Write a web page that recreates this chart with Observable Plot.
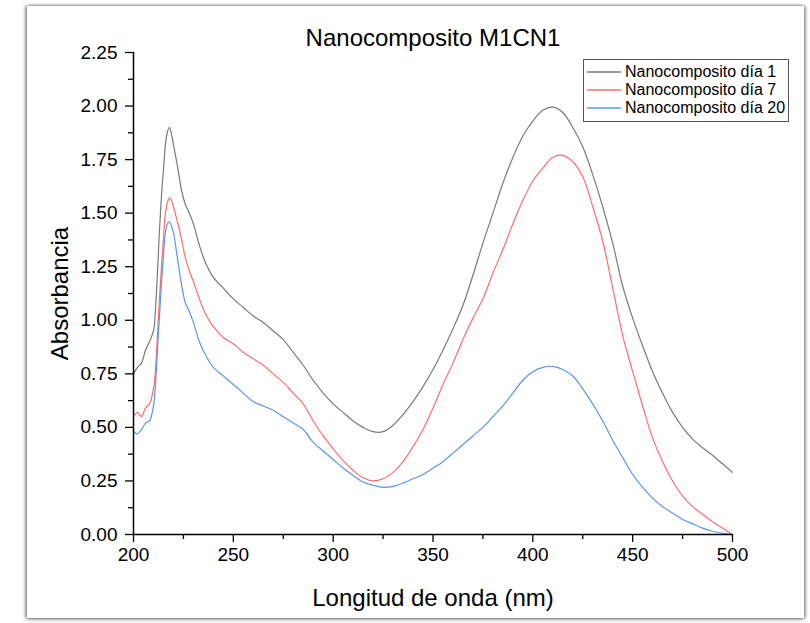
<!DOCTYPE html>
<html>
<head>
<meta charset="utf-8">
<script src="https://cdn.jsdelivr.net/npm/d3@7"></script>
<script src="https://cdn.jsdelivr.net/npm/@observablehq/plot@0.6"></script>
<style>
  html, body { margin: 0; padding: 0; background: #fff; }
  body { width: 810px; height: 623px; position: relative; overflow: hidden; font-family: "Liberation Sans", Arial, sans-serif; }
  #card { position: absolute; left: 27px; top: 6px; width: 777px; height: 612px; background: #fff;
          box-shadow: -2px 0 3px rgba(0,0,0,0.35), 0 -1px 3px rgba(0,0,0,0.2), 2px 0 3px rgba(0,0,0,0.3), 0 2px 3px rgba(0,0,0,0.25); }
  #chart { position: absolute; left: 0; top: 0; }
  #legend { position: absolute; left: 583px; top: 59px; width: 206px; height: 63px; border: 1px solid #555; background: #fff;
            font-size: 16px; line-height: 18px; padding-top: 3px; box-sizing: border-box; }
  .row { display: flex; align-items: center; height: 18px; white-space: nowrap; }
  .row svg { margin-left: 3px; margin-right: 4px; }
</style>
</head>
<body>
<div id="card"></div>
<div id="chart"></div>
<div id="legend"></div>
<script>
const wavelength = [200,202,204,206,208,210,211,212,213,214,215,216,217,218,219,220,222,224,226,228,230,233,236,240,245,250,255,260,265,270,275,280,285,290,295,300,305,310,315,320,325,330,335,340,345,350,355,360,365,370,375,380,385,390,395,400,405,410,415,420,425,430,435,440,445,450,455,460,465,470,475,480,485,490,495,500];
const day1 = [0.75,0.78,0.80,0.86,0.90,0.95,1.05,1.22,1.42,1.58,1.70,1.82,1.88,1.90,1.87,1.82,1.72,1.61,1.54,1.50,1.45,1.35,1.27,1.20,1.15,1.10,1.06,1.02,0.99,0.95,0.91,0.85,0.79,0.72,0.66,0.61,0.57,0.53,0.50,0.48,0.48,0.51,0.56,0.62,0.69,0.77,0.86,0.96,1.07,1.21,1.36,1.50,1.64,1.76,1.86,1.93,1.98,1.995,1.97,1.90,1.81,1.68,1.53,1.36,1.16,1.01,0.88,0.76,0.66,0.57,0.50,0.445,0.405,0.37,0.33,0.29];
const day7 = [0.55,0.57,0.55,0.59,0.61,0.68,0.77,0.93,1.10,1.25,1.38,1.50,1.55,1.57,1.56,1.53,1.46,1.38,1.29,1.23,1.18,1.10,1.03,0.97,0.92,0.89,0.85,0.82,0.79,0.75,0.71,0.66,0.61,0.53,0.46,0.40,0.345,0.30,0.265,0.25,0.26,0.29,0.34,0.41,0.49,0.59,0.70,0.80,0.91,1.01,1.10,1.22,1.33,1.45,1.56,1.65,1.71,1.76,1.77,1.74,1.67,1.53,1.37,1.15,0.93,0.76,0.60,0.45,0.34,0.25,0.18,0.13,0.095,0.06,0.03,0.00];
const day20 = [0.48,0.47,0.49,0.52,0.53,0.60,0.70,0.86,1.02,1.17,1.30,1.41,1.45,1.46,1.44,1.41,1.29,1.17,1.08,1.04,0.99,0.90,0.84,0.78,0.74,0.70,0.66,0.62,0.60,0.58,0.55,0.52,0.49,0.43,0.39,0.35,0.31,0.275,0.245,0.23,0.22,0.225,0.24,0.26,0.28,0.31,0.34,0.38,0.42,0.46,0.50,0.55,0.60,0.66,0.72,0.76,0.78,0.785,0.77,0.74,0.68,0.61,0.53,0.44,0.36,0.28,0.22,0.17,0.13,0.10,0.07,0.05,0.03,0.015,0.005,0.00];
const seriesNames = ["Nanocomposito día 1", "Nanocomposito día 7", "Nanocomposito día 20"];
const seriesColors = ["#7a7a7a", "#ff6e6e", "#5a95ee"];
const yTicks = [0,0.25,0.5,0.75,1,1.25,1.5,1.75,2,2.25];
const yMinorTicks = [0.125,0.375,0.625,0.875,1.125,1.375,1.625,1.875,2.125];
const xTicks = [200,250,300,350,400,450,500];
const xMinorTicks = [225,275,325,375,425,475];
const titleText = "Nanocomposito M1CN1";
const xLabel = "Longitud de onda (nm)";
const yLabel = "Absorbancia";

const allSeries = [day1, day7, day20];
const rows = [];
allSeries.forEach((vals, s) => wavelength.forEach((w, i) => rows.push({w, a: vals[i], s: seriesNames[s]})));

const chart = Plot.plot({
  width: 810, height: 623,
  marginLeft: 133, marginRight: 78, marginTop: 52, marginBottom: 89,
  x: {domain: [200, 500]},
  y: {domain: [0, 2.25]},
  color: {domain: seriesNames, range: seriesColors},
  style: {fontFamily: "'Liberation Sans', Arial, sans-serif", fontSize: "19px", background: "transparent", color: "#000", overflow: "visible"},
  marks: [
    Plot.line(rows, {x: "w", y: "a", stroke: "s", strokeWidth: 1.2, curve: "catmull-rom"}),
    Plot.axisY(yTicks, {tickSize: 8, tickPadding: 8, tickFormat: d => d.toFixed(2), label: null, stroke: "#000", strokeWidth: 1.3, strokeOpacity: 1, fontSize: 19}),
    Plot.axisY(yMinorTicks, {tickSize: 5, tickFormat: () => "", label: null, stroke: "#000", strokeWidth: 1.3, strokeOpacity: 1}),
    Plot.axisX(xTicks, {tickSize: 8, tickPadding: 5, tickFormat: d => String(d), label: null, stroke: "#000", strokeWidth: 1.3, strokeOpacity: 1, fontSize: 19}),
    Plot.axisX(xMinorTicks, {tickSize: 5, tickFormat: () => "", label: null, stroke: "#000", strokeWidth: 1.3, strokeOpacity: 1}),
    Plot.ruleX([200], {stroke: "#000", strokeWidth: 1.5}),
    Plot.ruleY([0], {stroke: "#000", strokeWidth: 1.5}),
    Plot.text([titleText], {frameAnchor: "top", dy: -14, lineAnchor: "middle", fontSize: 24, fill: "#000"}),
    Plot.text([xLabel], {frameAnchor: "bottom", dy: 64, lineAnchor: "middle", fontSize: 24, fill: "#000"}),
    Plot.text([yLabel], {frameAnchor: "left", dx: -73, rotate: -90, lineAnchor: "middle", textAnchor: "middle", fontSize: 24, fill: "#000"})
  ]
});
document.getElementById("chart").appendChild(chart);

const legend = document.getElementById("legend");
seriesNames.forEach((name, i) => {
  const row = document.createElement("div");
  row.className = "row";
  row.innerHTML = `<svg width="34" height="4"><line x1="0" y1="2" x2="34" y2="2" stroke="${seriesColors[i]}" stroke-width="1.3"/></svg><span></span>`;
  row.querySelector("span").textContent = name;
  legend.appendChild(row);
});
</script>
</body>
</html>
